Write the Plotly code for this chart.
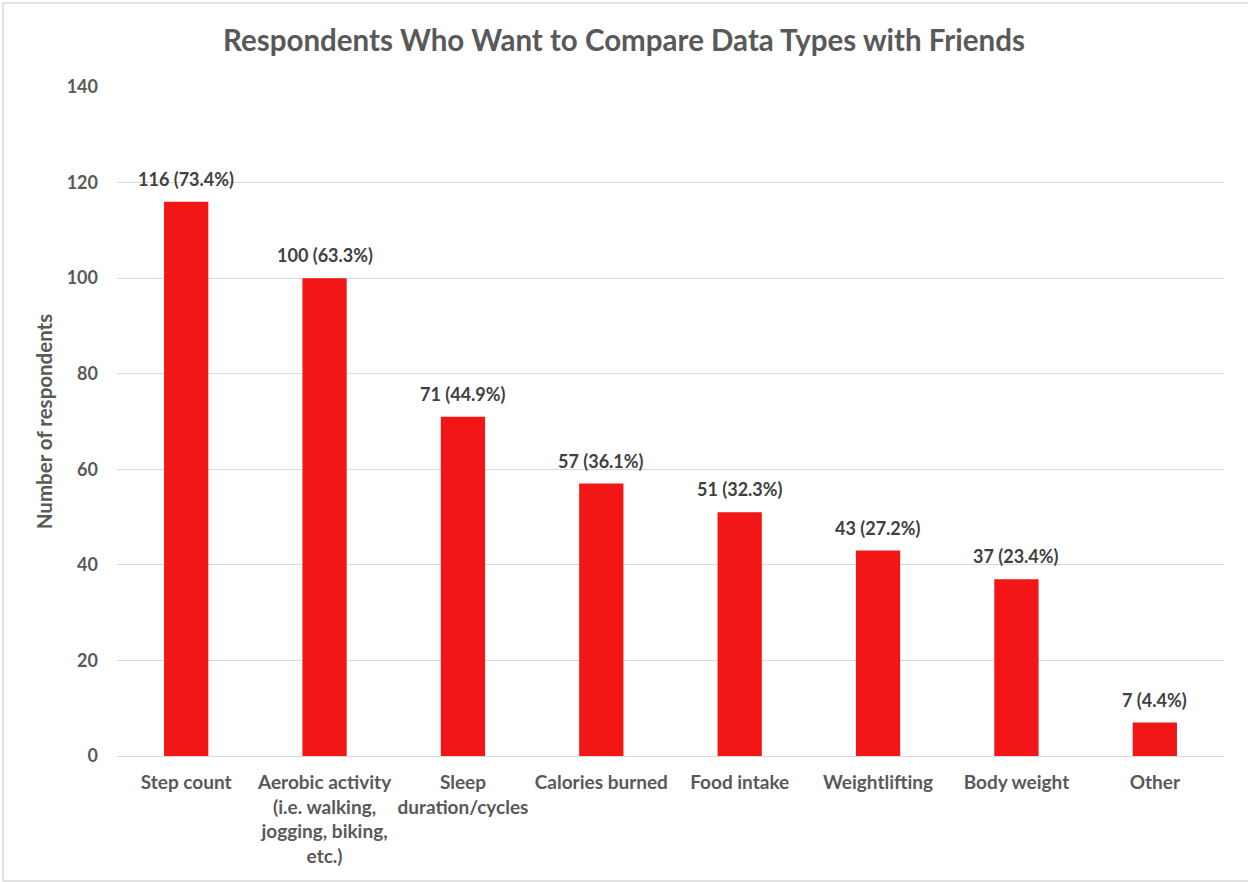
import plotly.graph_objects as go

categories = ["Step count", "Aerobic activity<br>(i.e. walking,<br>jogging, biking,<br>etc.)",
              "Sleep<br>duration/cycles", "Calories burned", "Food intake",
              "Weightlifting", "Body weight", "Other"]
values = [116, 100, 71, 57, 51, 43, 37, 7]
percents = [73.4, 63.3, 44.9, 36.1, 32.3, 27.2, 23.4, 4.4]
y_ticks = [0, 20, 40, 60, 80, 100, 120, 140]

labels = [f"{v} ({p}%)" for v, p in zip(values, percents)]

FONT = "Lato, Open Sans, sans-serif"

fig = go.Figure(go.Bar(
    x=categories, y=values,
    marker=dict(color="#F21616", line=dict(width=0)),
    hovertext=labels,
))

for c, v, lab in zip(categories, values, labels):
    fig.add_annotation(x=c, y=v, text=lab, showarrow=False, yanchor="bottom",
                       yshift=10,
                       font=dict(family=FONT, size=18, color="#404040", weight="bold"))

fig.update_layout(
    width=1248, height=882,
    margin=dict(l=117, r=24, t=87, b=126),
    paper_bgcolor="white", plot_bgcolor="white",
    bargap=0.68,
    showlegend=False,
    title=dict(text="Respondents Who Want to Compare Data Types with Friends",
               x=0.5, xref="container", xanchor="center", y=0.954, yanchor="middle",
               font=dict(family=FONT, size=29.5, color="#595959", weight="bold")),
    font=dict(family=FONT, color="#595959"),
)
fig.update_yaxes(
    range=[0, 140], tickvals=y_ticks, showgrid=True, gridcolor="#D9D9D9", gridwidth=1,
    zeroline=False, showline=False, ticks="", ticklabelstandoff=18,
    tickfont=dict(family=FONT, size=18, color="#595959", weight="bold"),
    title=dict(text="Number of respondents", standoff=8,
               font=dict(family=FONT, size=20.5, color="#595959", weight="bold")),
)
fig.update_xaxes(
    showline=True, linecolor="#D9D9D9", linewidth=1, ticks="",
    tickfont=dict(family=FONT, size=19, color="#595959", weight="bold"),
    ticklabelstandoff=9,
)
fig.add_shape(type="rect", xref="paper", yref="paper", x0=-114/1107, x1=1 + 30/1107,
              y0=-125/669, y1=1 + 84/669, line=dict(color="#D9D9D9", width=1.5))

fig.write_html("out.html")
